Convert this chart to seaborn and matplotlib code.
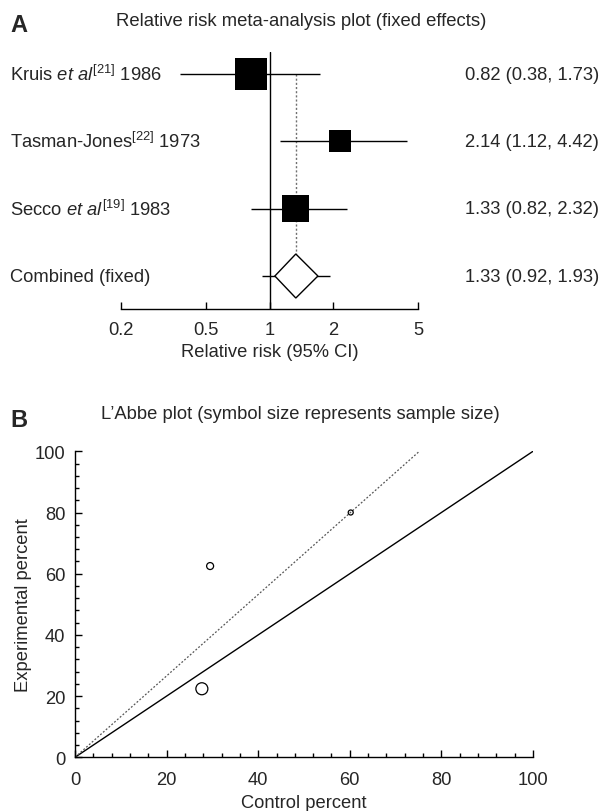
import numpy as np
import pandas as pd
import matplotlib
matplotlib.use("Agg")
import matplotlib.pyplot as plt
import matplotlib.transforms as mtrans
from matplotlib.ticker import MultipleLocator, FixedLocator, FixedFormatter, NullLocator
import seaborn as sns

# ---------------- data ----------------
study_labels = [r"Kruis $\mathit{et\ al}^{\mathrm{[21]}}$ 1986",
                r"Tasman-Jones$^{\mathrm{[22]}}$ 1973",
                r"Secco $\mathit{et\ al}^{\mathrm{[19]}}$ 1983"]
study_rr = [0.82, 2.14, 1.33]
study_lo = [0.38, 1.12, 0.82]
study_hi = [1.73, 4.42, 2.32]
study_weight = [45.8, 21.6, 32.6]          # square area ~ weight
pooled_label = "Combined (fixed)"
pooled_rr = 1.33
pooled_lo = 0.92
pooled_hi = 1.93
diamond_lo = 1.06
diamond_hi = 1.69
rr_ticks = [0.2, 0.5, 1, 2, 5]
rr_tick_labels = ["0.2", "0.5", "1", "2", "5"]

control_pct = [27.7, 29.5, 60.2]
experimental_pct = [22.4, 62.5, 80.0]
sample_size = [80, 27, 14]

# ---------------- style ----------------
sns.set_theme(style="white")
plt.rcParams["font.family"] = ["Liberation Sans", "DejaVu Sans"]
plt.rcParams["mathtext.fontset"] = "custom"
plt.rcParams["mathtext.rm"] = "Liberation Sans"
plt.rcParams["mathtext.it"] = "Liberation Sans:italic"
plt.rcParams["mathtext.bf"] = "Liberation Sans:bold"
FS = 13.2

fig = plt.figure(figsize=(6.03, 8.12), dpi=100)
W, H = 603.0, 812.0

# ================= Panel A =================
axA = fig.add_axes([121 / W, 1 - 310 / H, 297 / W, 257 / H])
n = len(study_labels)
rows = np.arange(n)
pooled_row = n
axA.set_xscale("log")
axA.set_xlim(rr_ticks[0], rr_ticks[-1])
axA.set_ylim(pooled_row + 0.49, -0.327)
for s in ["top", "right", "left"]:
    axA.spines[s].set_visible(False)
axA.spines["bottom"].set_linewidth(1.0)
axA.spines["bottom"].set_color("black")
axA.set_yticks([])
axA.xaxis.set_major_locator(FixedLocator(rr_ticks))
axA.xaxis.set_major_formatter(FixedFormatter(rr_tick_labels))
axA.xaxis.set_minor_locator(NullLocator())
axA.tick_params(axis="x", direction="in", length=5, width=1.0, color="black",
                labelsize=FS, pad=9, bottom=True)

# line of no effect
axA.axvline(1, color="black", lw=1.0, zorder=1)
# pooled estimate dotted line
half_h = 0.327
axA.plot([pooled_rr, pooled_rr], [rows[0], pooled_row - half_h],
         color="#707070", lw=1.0, ls=(0, (1.5, 1.5)), zorder=1)
# study CIs
axA.hlines(rows, study_lo, study_hi, color="black", lw=1.0, zorder=2)
dfA = pd.DataFrame({"rr": study_rr, "row": rows, "w": study_weight})
k = 530.8 / max(study_weight)
sns.scatterplot(data=dfA, x="rr", y="row", size="w", marker="s",
                sizes=(min(study_weight) * k, max(study_weight) * k),
                size_norm=(min(study_weight), max(study_weight)),
                color="black", edgecolor="black", linewidth=0, legend=False,
                ax=axA, zorder=3)
axA.set_xlabel("Relative risk (95% CI)", fontsize=FS, labelpad=3)
axA.set_ylabel("")
# pooled CI and diamond
axA.hlines([pooled_row], [pooled_lo], [pooled_hi], color="black", lw=1.0, zorder=2)
axA.fill([diamond_lo, pooled_rr, diamond_hi, pooled_rr],
         [pooled_row, pooled_row - half_h, pooled_row, pooled_row + half_h],
         facecolor="white", edgecolor="black", lw=1.0, zorder=3)

trA = mtrans.blended_transform_factory(fig.transFigure, axA.transData)
all_labels = study_labels + [pooled_label]
all_rr = study_rr + [pooled_rr]
all_lo = study_lo + [pooled_lo]
all_hi = study_hi + [pooled_hi]
for i, lab in enumerate(all_labels):
    axA.text(10 / W, i, lab, transform=trA, ha="left", va="center", fontsize=FS)
    axA.text(599 / W, i, f"{all_rr[i]:.2f} ({all_lo[i]:.2f}, {all_hi[i]:.2f})",
             transform=trA, ha="right", va="center", fontsize=FS)

fig.text(301 / W, 1 - 21 / H, "Relative risk meta-analysis plot (fixed effects)",
         ha="center", va="center", fontsize=13.3)
fig.text(10 / W, 1 - 26 / H, "A", ha="left", va="center", fontsize=17, fontweight="bold")

# ================= Panel B =================
axB = fig.add_axes([75 / W, 1 - 758.3 / H, 458 / W, 306 / H])
axB.set_xlim(0, 100)
axB.set_ylim(0, 100)
for s in ["top", "right"]:
    axB.spines[s].set_visible(False)
for s in ["left", "bottom"]:
    axB.spines[s].set_linewidth(1.0)
    axB.spines[s].set_color("black")
axB.xaxis.set_major_locator(MultipleLocator(20))
axB.yaxis.set_major_locator(MultipleLocator(20))
axB.xaxis.set_minor_locator(MultipleLocator(4))
axB.yaxis.set_minor_locator(MultipleLocator(4))
axB.tick_params(which="major", direction="in", length=5, width=1.0, color="black",
                labelsize=FS, bottom=True, left=True, pad=7)
axB.tick_params(axis="x", which="major", pad=10)
axB.tick_params(which="minor", direction="in", length=2.8, width=1.0, color="black",
                bottom=True, left=True)

# equality line and pooled RR line
axB.plot([0, 100], [0, 100], color="black", lw=1.0, zorder=1)
axB.plot([0, 100 / pooled_rr], [0, 100], color="#555555", lw=0.9,
         ls=(0, (1.5, 1.5)), zorder=1)

dfB = pd.DataFrame({"control": control_pct, "experimental": experimental_pct,
                    "n": sample_size})
kb = 74.6 / max(sample_size)
sns.scatterplot(data=dfB, x="control", y="experimental", size="n", marker="o",
                sizes=(min(sample_size) * kb, max(sample_size) * kb),
                size_norm=(min(sample_size), max(sample_size)),
                facecolor="none", edgecolor="black", linewidth=0.9,
                legend=False, ax=axB, zorder=3, clip_on=False)
axB.set_xlabel("Control percent", fontsize=FS, labelpad=4)
axB.set_ylabel("Experimental percent", fontsize=FS, labelpad=2)

fig.text(300 / W, 1 - 415 / H, "L\u2019Abbe plot (symbol size represents sample size)",
         ha="center", va="center", fontsize=13.2)
fig.text(10 / W, 1 - 421 / H, "B", ha="left", va="center", fontsize=17, fontweight="bold")

fig.savefig("out.png", dpi=100, facecolor="white")
